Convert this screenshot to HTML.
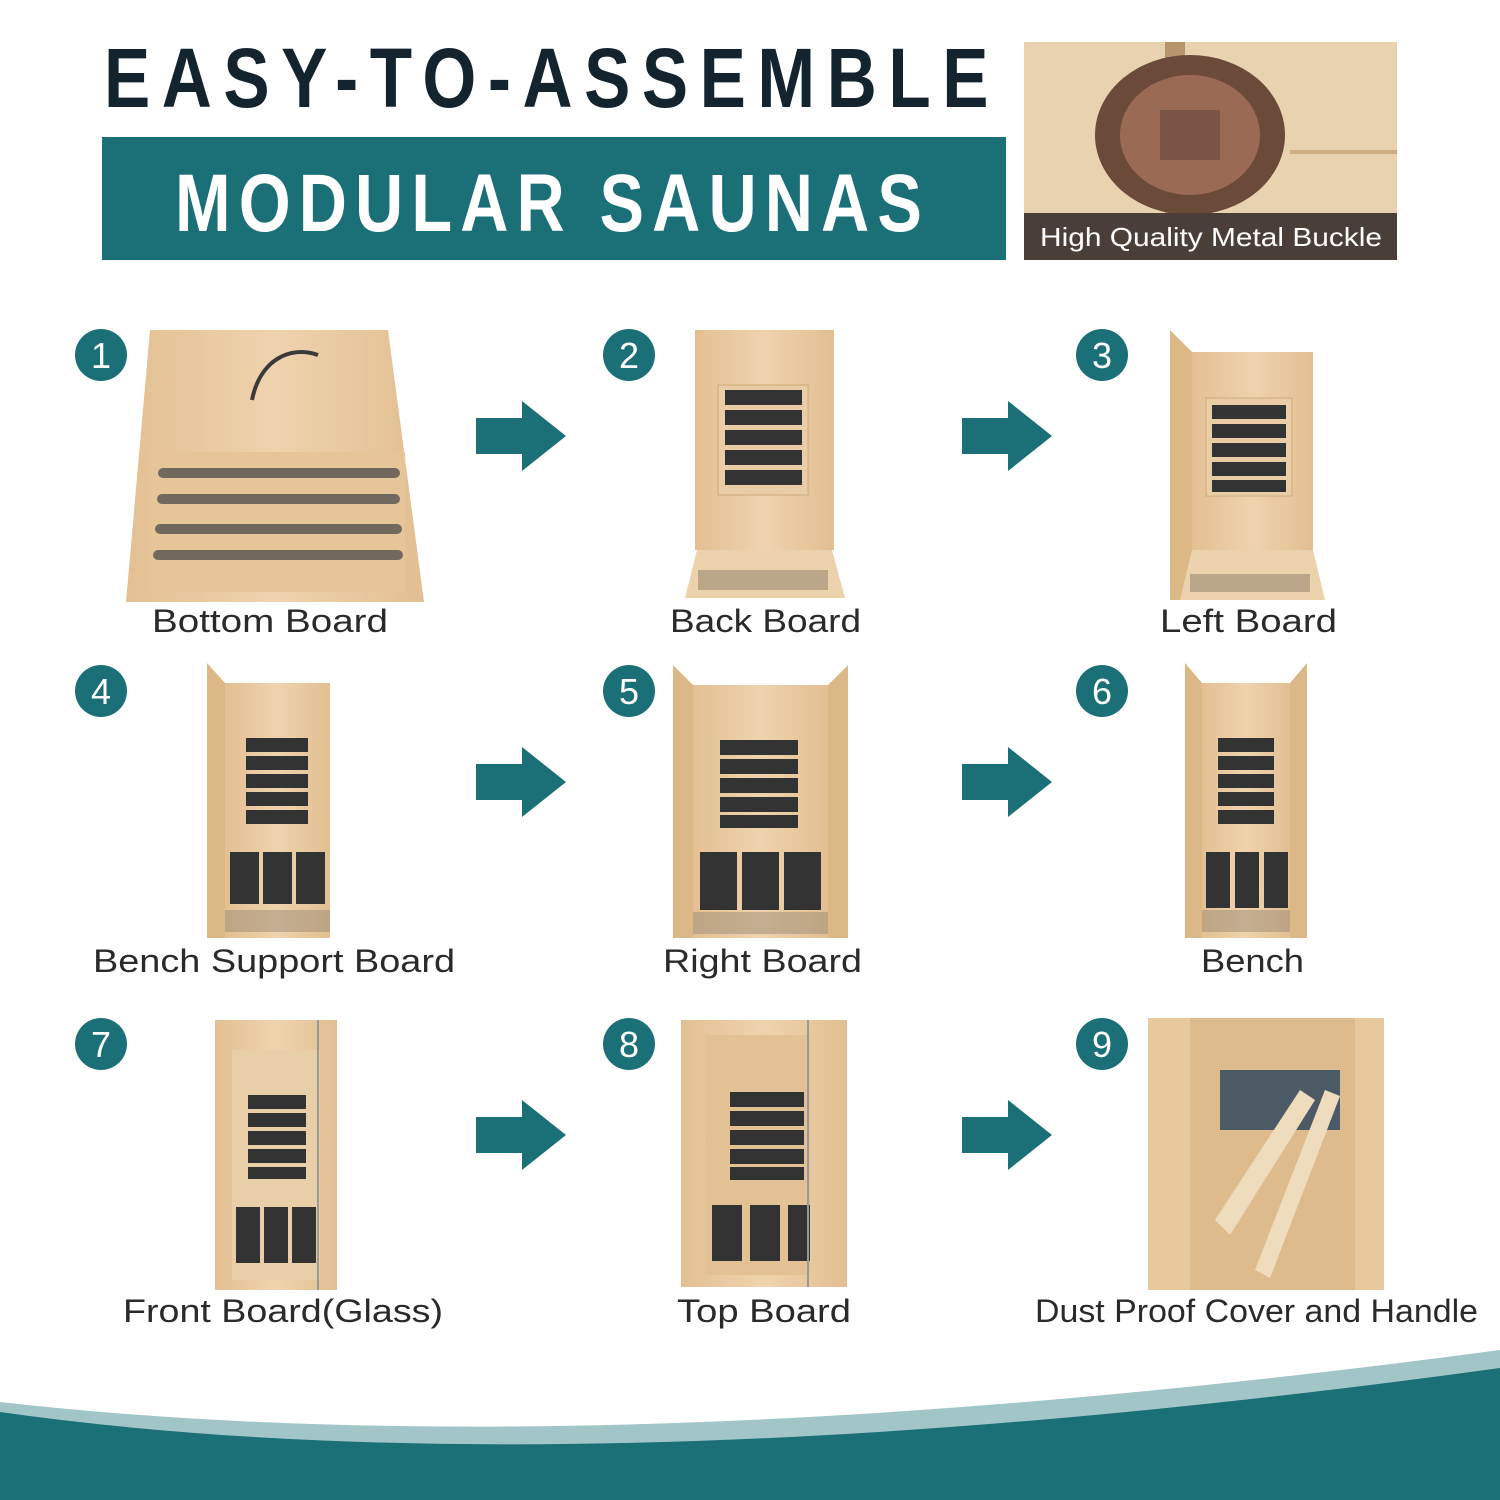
<!DOCTYPE html>
<html><head><meta charset="utf-8"><style>
html,body{margin:0;padding:0;background:#fff;width:1500px;height:1500px;overflow:hidden}
svg{display:block}
text{font-family:"Liberation Sans",sans-serif}
</style></head><body>
<svg width="1500" height="1500" viewBox="0 0 1500 1500" xmlns="http://www.w3.org/2000/svg">
<defs>
<linearGradient id="wood" x1="0" x2="1">
<stop offset="0" stop-color="#e3c093"/><stop offset="0.5" stop-color="#efd3ad"/><stop offset="1" stop-color="#e2bf92"/></linearGradient>
<g id="arrow"><rect x="0" y="-18" width="48" height="36" fill="#1b7078"/><polygon points="46,-35 90,0 46,35" fill="#1b7078"/></g>
</defs>
<!-- header -->
<text x="104" y="107" font-size="84" font-weight="bold" fill="#14242e" textLength="896" lengthAdjust="spacingAndGlyphs" font-family="Liberation Sans Narrow, Liberation Sans, sans-serif" letter-spacing="14">EASY-TO-ASSEMBLE</text>
<rect x="102" y="137" width="904" height="123" fill="#1b7078"/>
<text x="175" y="231" font-size="82" font-weight="bold" fill="#fff" textLength="755" lengthAdjust="spacingAndGlyphs" font-family="Liberation Sans Narrow, Liberation Sans, sans-serif" letter-spacing="10">MODULAR SAUNAS</text>
<rect x="1024" y="42" width="373" height="218" fill="#e9d2b0"/>
<rect x="1165" y="42" width="20" height="218" fill="#b8946a"/>
<rect x="1290" y="150" width="107" height="4" fill="#cfae84"/>
<ellipse cx="1190" cy="135" rx="95" ry="80" fill="#6b4a3a"/>
<ellipse cx="1190" cy="135" rx="70" ry="60" fill="#9a6a55"/>
<rect x="1160" y="110" width="60" height="50" fill="#7a5444"/>
<rect x="1024" y="213" width="373" height="47" fill="#4a3f38"/>
<text x="1040" y="246" font-size="26" fill="#fff" textLength="342" lengthAdjust="spacingAndGlyphs">High Quality Metal Buckle</text>

<!-- numbers -->
<g fill="#1b7078">
<circle cx="101" cy="355" r="26"/><circle cx="629" cy="355" r="26"/><circle cx="1102" cy="355" r="26"/>
<circle cx="101" cy="691" r="26"/><circle cx="629" cy="691" r="26"/><circle cx="1102" cy="691" r="26"/>
<circle cx="101" cy="1044" r="26"/><circle cx="629" cy="1044" r="26"/><circle cx="1102" cy="1044" r="26"/>
</g>
<g fill="#fff" font-size="36" text-anchor="middle">
<text x="101" y="368">1</text><text x="629" y="368">2</text><text x="1102" y="368">3</text>
<text x="101" y="704">4</text><text x="629" y="704">5</text><text x="1102" y="704">6</text>
<text x="101" y="1057">7</text><text x="629" y="1057">8</text><text x="1102" y="1057">9</text>
</g>
<!-- arrows -->
<use href="#arrow" x="476" y="436"/><use href="#arrow" x="962" y="436"/>
<use href="#arrow" x="476" y="782"/><use href="#arrow" x="962" y="782"/>
<use href="#arrow" x="476" y="1135"/><use href="#arrow" x="962" y="1135"/>

<!-- 1 bottom board -->
<polygon points="150,330 388,330 424,602 126,602" fill="url(#wood)"/>
<path d="M252,400 C260,360 290,345 318,355" stroke="#3a3a3a" stroke-width="4" fill="none"/>
<rect x="150" y="452" width="255" height="140" fill="#e6c699"/>
<g fill="#4a4a4a">
<rect x="158" y="468" width="242" height="10" rx="5" opacity="0.75"/>
<rect x="157" y="494" width="243" height="10" rx="5" opacity="0.75"/>
<rect x="155" y="524" width="247" height="10" rx="5" opacity="0.75"/>
<rect x="153" y="550" width="250" height="10" rx="5" opacity="0.75"/>
</g>
<!-- 2 back board -->
<rect x="695" y="330" width="139" height="220" fill="url(#wood)"/>
<rect x="718" y="385" width="90" height="110" fill="#e8cda6" stroke="#cfa97a"/>
<g fill="#333"><rect x="725" y="390" width="77" height="15"/><rect x="725" y="410" width="77" height="15"/><rect x="725" y="430" width="77" height="15"/><rect x="725" y="450" width="77" height="15"/><rect x="725" y="470" width="77" height="15"/></g>
<polygon points="697,550 832,550 845,598 685,598" fill="#ecd2ac"/>
<rect x="698" y="570" width="130" height="20" fill="#8a7a66" opacity="0.5"/>
<!-- 3 left board -->
<polygon points="1170,330 1192,352 1192,600 1170,600" fill="#dcb887"/>
<rect x="1192" y="352" width="121" height="198" fill="url(#wood)"/>
<rect x="1206" y="398" width="86" height="98" fill="#e8cda6" stroke="#cfa97a"/>
<g fill="#333"><rect x="1212" y="405" width="74" height="14"/><rect x="1212" y="424" width="74" height="14"/><rect x="1212" y="443" width="74" height="14"/><rect x="1212" y="462" width="74" height="14"/><rect x="1212" y="480" width="74" height="12"/></g>
<polygon points="1192,550 1313,550 1325,600 1180,600" fill="#ecd2ac"/>
<rect x="1190" y="574" width="120" height="18" fill="#8a7a66" opacity="0.5"/>

<!-- 4 -->
<polygon points="207,663 225,683 225,938 207,938" fill="#dcb887"/>
<rect x="225" y="683" width="105" height="255" fill="url(#wood)"/>
<g fill="#333"><rect x="246" y="738" width="62" height="14"/><rect x="246" y="756" width="62" height="14"/><rect x="246" y="774" width="62" height="14"/><rect x="246" y="792" width="62" height="14"/><rect x="246" y="810" width="62" height="14"/>
<rect x="230" y="852" width="29" height="52"/><rect x="263" y="852" width="29" height="52"/><rect x="296" y="852" width="29" height="52"/></g>
<rect x="225" y="910" width="105" height="22" fill="#9a8a76" opacity="0.5"/>
<!-- 5 -->
<polygon points="673,665 693,685 693,938 673,938" fill="#dcb887"/>
<polygon points="848,665 828,685 828,938 848,938" fill="#dcb887"/>
<rect x="693" y="685" width="135" height="253" fill="url(#wood)"/>
<g fill="#333"><rect x="720" y="740" width="78" height="15"/><rect x="720" y="759" width="78" height="15"/><rect x="720" y="778" width="78" height="15"/><rect x="720" y="797" width="78" height="15"/><rect x="720" y="815" width="78" height="13"/>
<rect x="700" y="852" width="37" height="58"/><rect x="742" y="852" width="37" height="58"/><rect x="784" y="852" width="37" height="58"/></g>
<rect x="693" y="912" width="135" height="22" fill="#9a8a76" opacity="0.5"/>
<!-- 6 -->
<polygon points="1185,663 1202,683 1202,938 1185,938" fill="#dcb887"/>
<polygon points="1307,663 1290,683 1290,938 1307,938" fill="#dcb887"/>
<rect x="1202" y="683" width="88" height="255" fill="url(#wood)"/>
<g fill="#333"><rect x="1218" y="738" width="56" height="14"/><rect x="1218" y="756" width="56" height="14"/><rect x="1218" y="774" width="56" height="14"/><rect x="1218" y="792" width="56" height="14"/><rect x="1218" y="810" width="56" height="14"/>
<rect x="1206" y="852" width="24" height="56"/><rect x="1235" y="852" width="24" height="56"/><rect x="1264" y="852" width="24" height="56"/></g>
<rect x="1202" y="910" width="88" height="22" fill="#9a8a76" opacity="0.5"/>
<!-- 7 -->
<rect x="215" y="1020" width="122" height="270" fill="url(#wood)"/>
<rect x="232" y="1050" width="88" height="230" fill="#e9cfa8"/>
<g fill="#333"><rect x="248" y="1095" width="58" height="14"/><rect x="248" y="1113" width="58" height="14"/><rect x="248" y="1131" width="58" height="14"/><rect x="248" y="1149" width="58" height="14"/><rect x="248" y="1167" width="58" height="12"/>
<rect x="236" y="1207" width="24" height="56"/><rect x="264" y="1207" width="24" height="56"/><rect x="292" y="1207" width="24" height="56"/></g>
<line x1="318" y1="1020" x2="318" y2="1290" stroke="#999" stroke-width="2"/>
<!-- 8 -->
<rect x="681" y="1020" width="166" height="267" fill="url(#wood)"/>
<rect x="705" y="1035" width="105" height="240" fill="#e2c294"/>
<g fill="#333"><rect x="730" y="1092" width="74" height="15"/><rect x="730" y="1111" width="74" height="15"/><rect x="730" y="1130" width="74" height="15"/><rect x="730" y="1149" width="74" height="15"/><rect x="730" y="1167" width="74" height="13"/>
<rect x="712" y="1205" width="30" height="56"/><rect x="750" y="1205" width="30" height="56"/><rect x="788" y="1205" width="22" height="56"/></g>
<line x1="808" y1="1020" x2="808" y2="1287" stroke="#999" stroke-width="2"/>
<!-- 9 -->
<rect x="1148" y="1018" width="236" height="272" fill="#e8c99d"/>
<rect x="1190" y="1018" width="165" height="272" fill="#ddbb8c"/>
<rect x="1220" y="1070" width="120" height="60" fill="#4c5a66"/>
<polygon points="1215,1220 1300,1090 1315,1100 1230,1235" fill="#efdcbd"/>
<polygon points="1255,1270 1325,1090 1340,1096 1270,1278" fill="#efdcbd"/>

<!-- labels -->
<g font-size="32" fill="#2a2a2a" lengthAdjust="spacingAndGlyphs">
<text x="152" y="632" textLength="236" lengthAdjust="spacingAndGlyphs">Bottom Board</text>
<text x="670" y="632" textLength="191" lengthAdjust="spacingAndGlyphs">Back Board</text>
<text x="1160" y="632" textLength="177" lengthAdjust="spacingAndGlyphs">Left Board</text>
<text x="93" y="972" textLength="362" lengthAdjust="spacingAndGlyphs">Bench Support Board</text>
<text x="663" y="972" textLength="199" lengthAdjust="spacingAndGlyphs">Right Board</text>
<text x="1201" y="972" textLength="103" lengthAdjust="spacingAndGlyphs">Bench</text>
<text x="123" y="1322" textLength="320" lengthAdjust="spacingAndGlyphs">Front Board(Glass)</text>
<text x="677" y="1322" textLength="174" lengthAdjust="spacingAndGlyphs">Top Board</text>
<text x="1035" y="1322" textLength="443" lengthAdjust="spacingAndGlyphs">Dust Proof Cover and Handle</text>
</g>

<!-- wave -->
<path d="M0,1402 Q600,1470 1500,1350 L1500,1500 L0,1500 Z" fill="#a2c6c8"/>
<path d="M0,1412 Q580,1494 1500,1368 L1500,1500 L0,1500 Z" fill="#1b7078"/>
</svg>
</body></html>
